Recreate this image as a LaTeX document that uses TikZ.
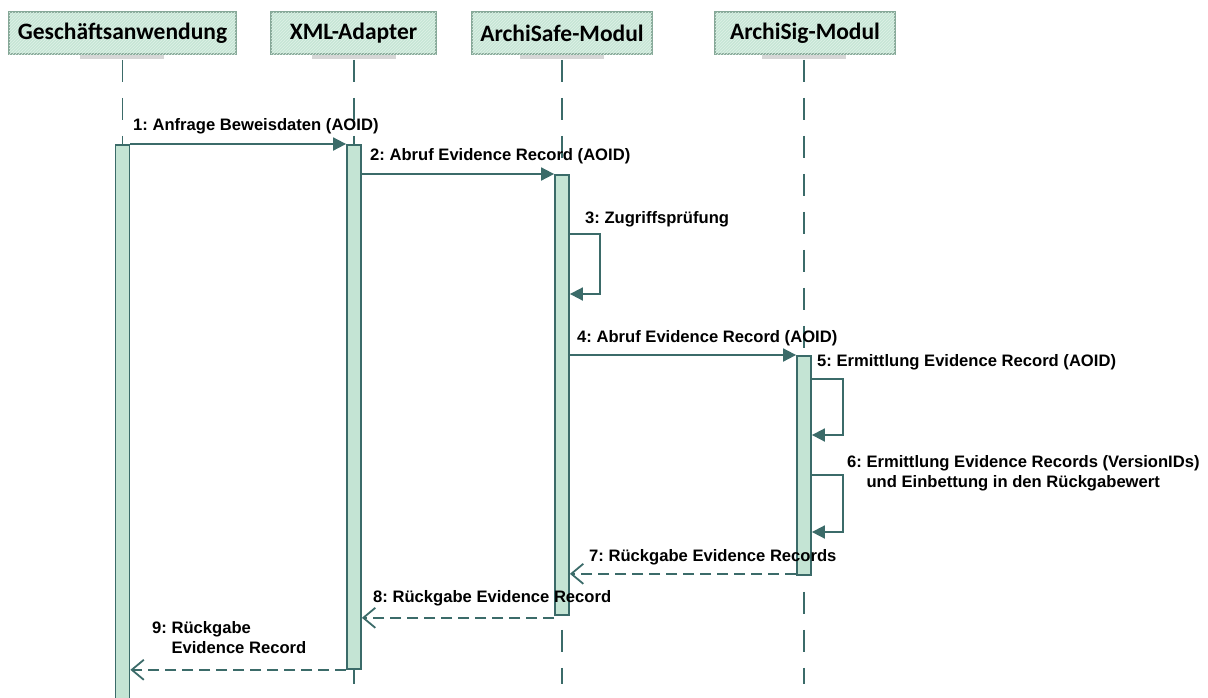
\documentclass[tikz,border=0pt]{standalone}
\usepackage{fontspec}
\setmainfont{Liberation Sans}
\newfontfamily\hdrfont{Carlito}
\usetikzlibrary{arrows.meta,patterns,calc}
\definecolor{boxfill}{HTML}{C6E6D6}
\definecolor{boxdraw}{HTML}{86A898}
\definecolor{lineteal}{HTML}{3B6B69}
\definecolor{barfill}{HTML}{C4E4D4}
\tikzset{
  header/.style={draw=boxdraw, line width=1.5pt, fill=boxfill, minimum height=42pt, inner sep=0pt,
    font=\hdrfont\bfseries\fontsize{23.5}{27}\selectfont,
    postaction={pattern=north east lines, pattern color=white!45!boxfill}},
  shadowbar/.style={fill=black!16},
  lifeline/.style={draw=lineteal, line width=1.8pt, dash pattern=on 22pt off 16pt},
  actbar/.style={draw=lineteal, fill=barfill, line width=1.8pt, minimum width=14pt, inner sep=0pt, anchor=north},
  msg/.style={draw=lineteal, line width=1.8pt, -{Triangle[length=13pt,width=13pt]}},
  ret/.style={draw=lineteal, line width=1.8pt, dash pattern=on 11pt off 6pt, -{Straight Barb[length=12pt,width=20pt]}},
  lbl/.style={font=\bfseries\fontsize{16.6}{20}\selectfont, anchor=west, inner sep=0pt, align=left}
}
\begin{document}
\frenchspacing
\begin{tikzpicture}[x=1pt,y=-1pt]
\useasboundingbox (0,0) rectangle (1208,697);
\fill[white] (0,0) rectangle (1208,697);
% shadows under headers
\foreach \cx in {122,354,562,804}{
  \fill[shadowbar] (\cx-42,55) rectangle (\cx+42,59);
}
% headers
\node[header, minimum width=227pt] (hG) at (122.5,33) {Geschäftsanwendung};
\node[header, minimum width=165pt] (hX) at (353.5,33) {XML-Adapter};
\node[header, minimum width=180pt] (hS) at (562,33) {ArchiSafe-Modul};
\node[header, minimum width=180pt] (hI) at (805,33) {ArchiSig-Modul};
% lifeline ends
\coordinate (eG) at (122.5,705);
\coordinate (eX) at (354,684);
\coordinate (eS) at (562,684);
\coordinate (eI) at (804,684);
\draw[lifeline] ([yshift=-5pt]hG.south) -- (eG);
\draw[lifeline] ([yshift=-5pt]hX.south -| eX) -- (eX);
\draw[lifeline] ([yshift=-5pt]hS.south) -- (eS);
\draw[lifeline] ([yshift=-5pt]hI.south -| eI) -- (eI);
% activation bars
\node[actbar, minimum height=565pt] (bG) at (122.5,144) {};
\node[actbar, minimum height=524pt] (bX) at (354,144) {};
\node[actbar, minimum height=440pt] (bS) at (562,174) {};
\node[actbar, minimum height=219pt] (bI) at (804,355) {};
% messages
\draw[msg] (bG.north east) -- (bX.north west);
\node[lbl] (l1) at (133,126) {1: Anfrage Beweisdaten (AOID)};
\draw[msg] (bX.east |- bS.north) -- (bS.north west);
\node[lbl] (l2) at (370,156) {2: Abruf Evidence Record (AOID)};
\draw[msg] ($(bS.north east)+(0,60)$) -- ++(30,0) -- ++(0,60) -- ++(-30,0);
\node[lbl] (l3) at (585,219) {3: Zugriffsprüfung};
\draw[msg] (bS.east |- bI.north) -- (bI.north west);
\node[lbl] (l4) at (577,338) {4: Abruf Evidence Record (AOID)};
\draw[msg] ($(bI.north east)+(0,24)$) -- ++(31,0) -- ++(0,56) -- ++(-31,0);
\node[lbl] (l5) at (817,362) {5: Ermittlung Evidence Record (AOID)};
\draw[msg] ($(bI.north east)+(0,120)$) -- ++(31,0) -- ++(0,57) -- ++(-31,0);
\node[lbl] (l6) at (847,473) {6: Ermittlung Evidence Records (VersionIDs)\\\hphantom{6: }und Einbettung in den Rückgabewert};
% returns
\draw[ret] ($(bI.south west)+(0,-2)$) -- ($(bS.east |- bI.south)+(0,-2)$);
\node[lbl] (l7) at (589,557) {7: Rückgabe Evidence Records};
\draw[ret] ($(bS.south west)+(0,2)$) -- ($(bX.east |- bS.south)+(0,2)$);
\node[lbl] (l8) at (373,598) {8: Rückgabe Evidence Record};
\draw[ret] (bX.south west) -- (bG.east |- bX.south);
\node[lbl] (l9) at (152,638) {9: Rückgabe\\\hphantom{9: }Evidence Record};
\end{tikzpicture}
\end{document}
